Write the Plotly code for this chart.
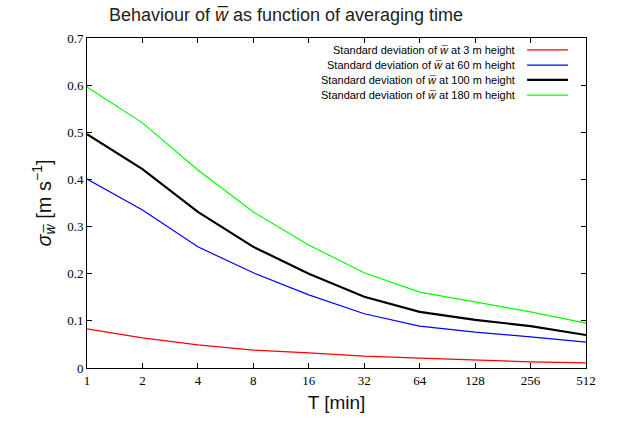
import plotly.graph_objects as go

T = [1, 2, 4, 8, 16, 32, 64, 128, 256, 512]
tick_labels = ["1", "2", "4", "8", "16", "32", "64", "128", "256", "512"]

sd_3m = [0.083, 0.064, 0.049, 0.038, 0.032, 0.025, 0.021, 0.017, 0.013, 0.011]
sd_60m = [0.401, 0.335, 0.257, 0.202, 0.155, 0.115, 0.089, 0.076, 0.066, 0.055]
sd_100m = [0.496, 0.422, 0.331, 0.257, 0.200, 0.151, 0.119, 0.102, 0.089, 0.070]
sd_180m = [0.596, 0.520, 0.420, 0.331, 0.261, 0.202, 0.161, 0.140, 0.119, 0.095]

names = [
    "Standard deviation of <i>w̅</i> at 3 m height",
    "Standard deviation of <i>w̅</i> at 60 m height",
    "Standard deviation of <i>w̅</i> at 100 m height",
    "Standard deviation of <i>w̅</i> at 180 m height",
]
series = [sd_3m, sd_60m, sd_100m, sd_180m]
colors = ["#ff0000", "#0000ff", "#000000", "#00ff00"]
widths = [1.2, 1.2, 2.2, 1.2]

fig = go.Figure()
for n, s, c, w in zip(names, series, colors, widths):
    fig.add_trace(go.Scatter(x=T, y=s, mode="lines", name=n,
                             line=dict(color=c, width=w), showlegend=False))

# legend drawn as right-aligned text with line sample on the right
row_y = [0.964, 0.918, 0.873, 0.827]
for n, c, w, yy in zip(names, colors, widths, row_y):
    fig.add_annotation(x=0.862, y=yy, xref="paper", yref="paper", text=n,
                       showarrow=False, xanchor="right", yanchor="middle",
                       font=dict(family="Liberation Sans", size=11, color="#000"))
    fig.add_shape(type="line", xref="paper", yref="paper", x0=0.882, x1=0.964,
                  y0=yy, y1=yy, line=dict(color=c, width=w))

axis_common = dict(showline=True, linecolor="black", linewidth=1, mirror="ticks",
                   ticks="inside", ticklen=5, tickcolor="black", showgrid=False,
                   zeroline=False,
                   tickfont=dict(family="Liberation Serif", size=13, color="#000"))

fig.update_xaxes(type="log", range=[0, 2.70927], tickvals=T, ticktext=tick_labels,
                 title=dict(text="T [min]", font=dict(family="Liberation Sans", size=19, color="#111"),
                            standoff=9),
                 **axis_common)
fig.update_yaxes(range=[0, 0.7], dtick=0.1, tick0=0,
                 title=dict(text="<i>σ</i><sub><i>w̅</i></sub> [m s<sup>−1</sup>]",
                            font=dict(family="Liberation Sans", size=20, color="#111"),
                            standoff=10),
                 **axis_common)

fig.update_layout(
    width=618, height=421,
    margin=dict(l=87, r=32, t=38, b=53),
    paper_bgcolor="white", plot_bgcolor="white",
    title=dict(text="Behaviour of <i>w̅</i> as function of averaging time",
               x=286 / 618, xanchor="center", y=1 - 15 / 421, yanchor="middle",
               font=dict(family="Liberation Sans", size=18, color="#222")),
)

fig.write_html("out.html")
